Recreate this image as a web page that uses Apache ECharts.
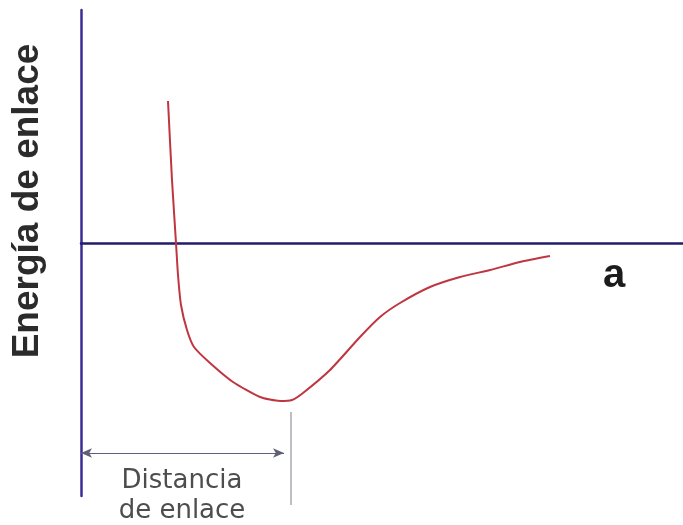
<!DOCTYPE html>
<html>
<head>
<meta charset="utf-8">
<title>Energía de enlace</title>
<script src="https://cdn.jsdelivr.net/npm/echarts@6/dist/echarts.min.js"></script>
<style>
  html, body { margin: 0; padding: 0; background: #fff; }
  #chart { width: 683px; height: 525px; }
</style>
</head>
<body>
<div id="chart"></div>
<script>
// distancia interatómica (a) y energía de enlace
var distancia = [0.87, 0.91, 0.95, 0.97, 1.00, 1.06, 1.13, 1.29, 1.52, 1.79, 1.99, 2.11, 2.22, 2.49, 2.79, 2.99, 3.19, 3.49, 3.79, 4.09, 4.39, 4.69]
var energia = [1.42, 0.63, 0.00, -0.32, -0.62, -0.87, -1.04, -1.20, -1.39, -1.54, -1.58, -1.57, -1.50, -1.27, -0.94, -0.74, -0.60, -0.44, -0.34, -0.27, -0.19, -0.13]

// cota "Distancia de enlace"
var distanciaEnlace = 2.10
var cotaY = -2.10
var cotaFlecha = 2.03
var guiaY = [-1.69, -2.62]

var chart = echarts.init(document.getElementById('chart'))

chart.setOption({
    backgroundColor: '#fff',
    animation: false,
    grid: {
        left: 81,
        right: 0,
        top: 10,
        bottom: 29
    },
    xAxis: {
        type: 'value',
        min: 0,
        max: 6.02,
        axisLine: {
            onZero: true,
            lineStyle: { color: '#221c6c', width: 2.5 }
        },
        axisTick: { show: false },
        axisLabel: { show: false },
        splitLine: { show: false }
    },
    yAxis: {
        type: 'value',
        min: -2.53,
        max: 2.33,
        axisLine: {
            show: true,
            lineStyle: { color: '#3a2c96', width: 2.5 }
        },
        axisTick: { show: false },
        axisLabel: { show: false },
        splitLine: { show: false }
    },
    series: [
        {
            type: 'line',
            clip: false,
            smooth: 0.2,
            symbol: 'none',
            lineStyle: { color: '#bf3540', width: 2 },
            data: distancia.map(function (x, i) { return [x, energia[i]] }),
            markLine: {
                silent: true,
                label: { show: false },
                data: [
                    [
                        { coord: [0, cotaY], symbol: 'arrow', symbolSize: [7, 11], lineStyle: { color: '#5f5f78', width: 1, type: 'solid' } },
                        { coord: [cotaFlecha, cotaY], symbol: 'arrow', symbolSize: [7, 11] }
                    ]
                ]
            }
        }
    ]
})

// línea guía vertical en la distancia de enlace (baja por debajo del eje)
var p0 = chart.convertToPixel({ gridIndex: 0 }, [distanciaEnlace, guiaY[0]])
var p1 = chart.convertToPixel({ gridIndex: 0 }, [distanciaEnlace, guiaY[1]])

chart.setOption({
    graphic: [
        {
            type: 'line',
            shape: { x1: p0[0], y1: p0[1], x2: p1[0], y2: p1[1] },
            style: { stroke: '#a8a8b0', lineWidth: 1.5 }
        },
        {
            type: 'text',
            x: 28,
            y: 201,
            rotation: Math.PI / 2,
            style: {
                text: 'Energía de enlace',
                font: 'bold 37px "Liberation Sans", Arial, sans-serif',
                fill: '#2b2b2b',
                textAlign: 'center',
                textVerticalAlign: 'middle'
            }
        },
        {
            type: 'text',
            x: 614,
            y: 276,
            style: {
                text: 'a',
                font: 'bold 40px "Liberation Sans", Arial, sans-serif',
                fill: '#1c1c1c',
                textAlign: 'center',
                textVerticalAlign: 'middle'
            }
        },
        {
            type: 'text',
            x: 182,
            y: 481,
            style: {
                text: 'Distancia',
                font: '26px "DejaVu Sans", sans-serif',
                fill: '#4d4d4d',
                textAlign: 'center',
                textVerticalAlign: 'middle'
            }
        },
        {
            type: 'text',
            x: 182,
            y: 511,
            style: {
                text: 'de enlace',
                font: '26px "DejaVu Sans", sans-serif',
                fill: '#4d4d4d',
                textAlign: 'center',
                textVerticalAlign: 'middle'
            }
        }
    ]
})
</script>
</body>
</html>
